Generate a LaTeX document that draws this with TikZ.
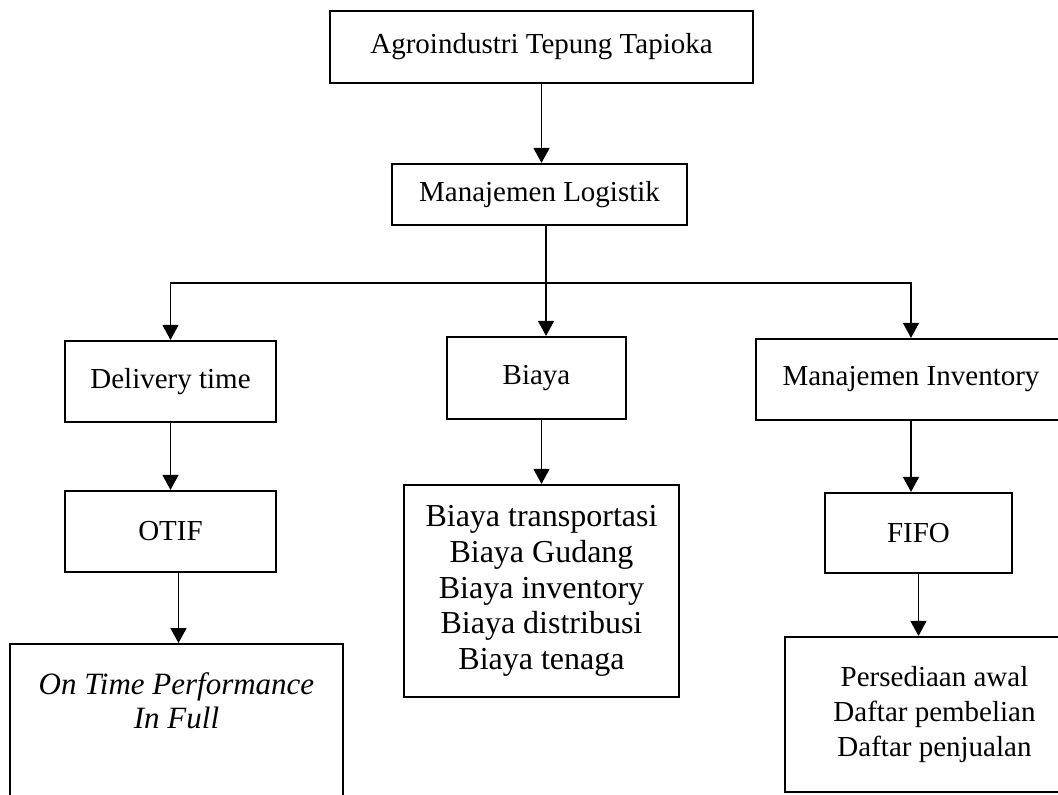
\documentclass[tikz,border=0pt]{standalone}
\usepackage{fontspec}
\setmainfont{Liberation Serif}
\usetikzlibrary{arrows.meta}

\begin{document}
\begin{tikzpicture}[x=0.5pt,y=-0.5pt,
    box/.style={draw,line width=1.1pt,inner sep=0pt,align=center,
      font=\fontsize{14.5}{17.5}\selectfont},
    arr/.style={line width=0.6pt,-{Triangle[length=7.5pt,width=8pt]}}]
  \clip (0,0) rectangle (1058,794);
  % the boxes
  \node[box,minimum width=211.5pt,minimum height=36pt] (agro) at (541.5,47) {Agroindustri Tepung Tapioka};
  \node[box,minimum width=147.5pt,minimum height=30.5pt] (logistik) at (539.5,194.5) {Manajemen Logistik};
  \node[box,minimum width=105.5pt,minimum height=40.5pt] (delivery) at (170.5,381.5) {Delivery time};
  \node[box,minimum width=89.5pt,minimum height=41pt] (biaya) at (536.5,378) {Biaya};
  \node[box,minimum width=155pt,minimum height=40.5pt] (inventory) at (911,379.5) {Manajemen Inventory};
  \node[box,minimum width=105.5pt,minimum height=40.5pt] (otif) at (170.5,531.5) {OTIF};
  \node[box,minimum width=93.5pt,minimum height=40pt] (fifo) at (918.5,533) {FIFO};
  \node[box,minimum width=137.5pt,minimum height=106pt,font=\fontsize{16}{17.9}\selectfont] (biayalist) at (541.5,591)
    {Biaya transportasi\\Biaya Gudang\\Biaya inventory\\Biaya distribusi\\Biaya tenaga};
  \node[box,minimum width=149.5pt,minimum height=77.5pt] (persediaan) at (934.5,714.5)
    {Persediaan awal\\Daftar pembelian\\Daftar penjualan};
  \node[box,anchor=north,minimum width=166.5pt,inner ysep=14.5pt,text depth=100pt,
    font=\fontsize{15.5}{17}\selectfont\itshape] (otifdef) at (176.5,643)
    {On Time Performance\\In Full};
  % connectors
  \coordinate (split) at (546,283);
  \draw[arr] (agro) -- (agro |- logistik.north);
  \draw[line width=0.6pt] (logistik.south -| split) -- (split);
  \draw[arr] (split) -| (delivery.north);
  \draw[arr] (split) -| (inventory.north);
  \draw[arr] (split) -- (split |- biaya.north);
  \draw[arr] (delivery) -- (otif);
  \draw[arr] ([xshift=4pt]otif.south) -- ([xshift=4pt]otif.south |- otifdef.north);
  \draw[arr] (biaya.south -| biayalist) -- (biayalist.north);
  \draw[arr] (inventory.south) -- (inventory.south |- fifo.north);
  \draw[arr] (fifo.south) -- (fifo.south |- persediaan.north);
\end{tikzpicture}
\end{document}
